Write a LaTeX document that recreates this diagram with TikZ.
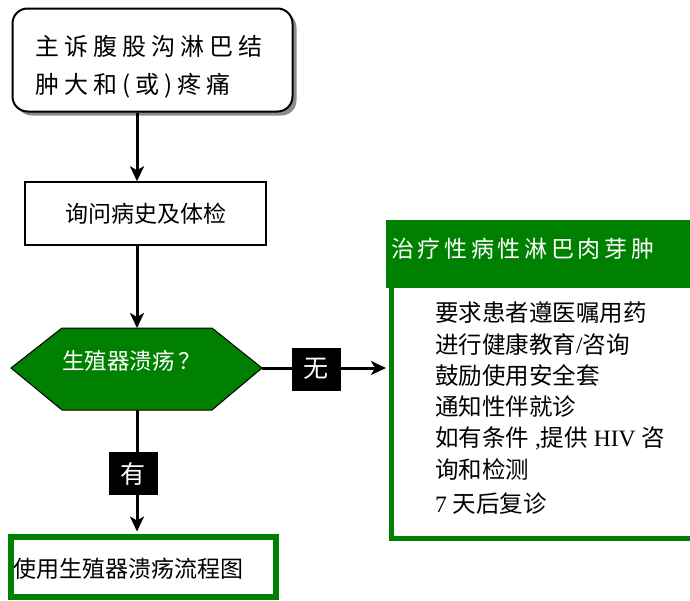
\documentclass[tikz,border=0pt]{standalone}
\usepackage{fontspec}
\setmainfont{Liberation Serif}
\newfontfamily\cjk{Noto Sans CJK SC}
\newfontfamily\cjkwide[LetterSpace=21]{Noto Sans CJK SC}
\newfontfamily\cjkhead[LetterSpace=16]{Noto Sans CJK SC}
\usetikzlibrary{arrows.meta,shadows}
\definecolor{dgreen}{HTML}{008000}
\begin{document}
\begin{tikzpicture}[x=1pt,y=-1pt,
  conn/.style={line width=3pt,-{Stealth[length=15pt,width=14pt,inset=4pt]}},
  lab/.style={fill=black,text=white,minimum width=49pt,minimum height=43pt,inner sep=0pt,font=\fontsize{25}{25}\selectfont\cjk},
  topbox/.style={draw,line width=2pt,rounded corners=15pt,fill=white,minimum width=280pt,minimum height=103pt,inner sep=0pt,
     drop shadow={shadow xshift=4pt,shadow yshift=-4pt,fill=black!45,opacity=1}},
  midbox/.style={draw,line width=1.5pt,fill=white,minimum width=241pt,minimum height=63pt,inner sep=0pt,font=\fontsize{23}{23}\selectfont\cjk},
  botbox/.style={draw=dgreen,line width=5.5pt,minimum width=265pt,minimum height=60pt,inner sep=0pt},
  bigtxt/.style={anchor=west,inner sep=0pt,font=\fontsize{24}{24}\selectfont\cjkwide},
  bodytxt/.style={anchor=west,inner sep=0pt,font=\fontsize{23.5}{23.5}\selectfont\cjk}]
\path[use as bounding box] (0,0) rectangle (690,600);
\clip (0,0) rectangle (690,600);

% top box
\node[topbox] (top) at (152.5,60) {};
\node[bigtxt] (t1) at (35,46) {主诉腹股沟淋巴结};
\node[bigtxt] (t2) at (35,86) {肿大和(或)疼痛};

% middle box
\node[midbox] (hist) at (145.5,213.5) {询问病史及体检};

% hexagon
\coordinate (hexN) at (137,328);
\coordinate (hexE) at (262,368);
\coordinate (hexS) at (137,410);
\draw[fill=dgreen,line width=1pt] (11,368) -- (62,328) -- (212,328) -- (262,368) -- (212,410) -- (62,410) -- cycle;
\node[anchor=west,inner sep=0pt,text=white,font=\fontsize{22.5}{22.5}\selectfont\cjk] (q) at (62,361) {生殖器溃疡\,？};

% right box
\fill[dgreen] (386,220) rectangle (740,288);
\node[draw=dgreen,line width=5pt,minimum width=350pt,minimum height=313pt,inner sep=0pt,anchor=north west] (rbox) at (388.5,222.5) {};
\node[anchor=west,inner sep=0pt,text=white,font=\fontsize{23}{23}\selectfont\cjkhead] (head) at (391,249) {治疗性病性淋巴肉芽肿};
\node[bodytxt] (b1) at (435,313) {要求患者遵医嘱用药};
\node[bodytxt] (b2) at (435,345) {进行健康教育{\rmfamily/}咨询};
\node[bodytxt] (b3) at (435,376) {鼓励使用安全套};
\node[bodytxt] (b4) at (435,407) {通知性伴就诊};
\node[bodytxt] (b5) at (435,438) {如有条件{\rmfamily\ ,}提供{\rmfamily\ HIV }咨};
\node[bodytxt] (b6) at (435,469) {询和检测};
\node[bodytxt] (b7) at (435,504) {{\rmfamily 7 }天后复诊};

% bottom box
\node[botbox] (bot) at (143.5,567) {};
\node[bodytxt,font=\fontsize{23}{23}\selectfont\cjk] (bt) at (13,569) {使用生殖器溃疡流程图};

% connectors
\draw[conn] (top.south -| hexN) -- (hist.north -| hexN);
\draw[conn] (hist.south -| hexN) -- (hexN);
\draw[conn,shorten >=2.5pt] (hexE) -- (rbox.west |- hexE);
\draw[conn,shorten >=2.75pt] (hexS) -- (bot.north -| hexS);
\node[lab] (no) at (316,369) {无};
\node[lab] (yes) at (133,473.5) {有};
\end{tikzpicture}
\end{document}
